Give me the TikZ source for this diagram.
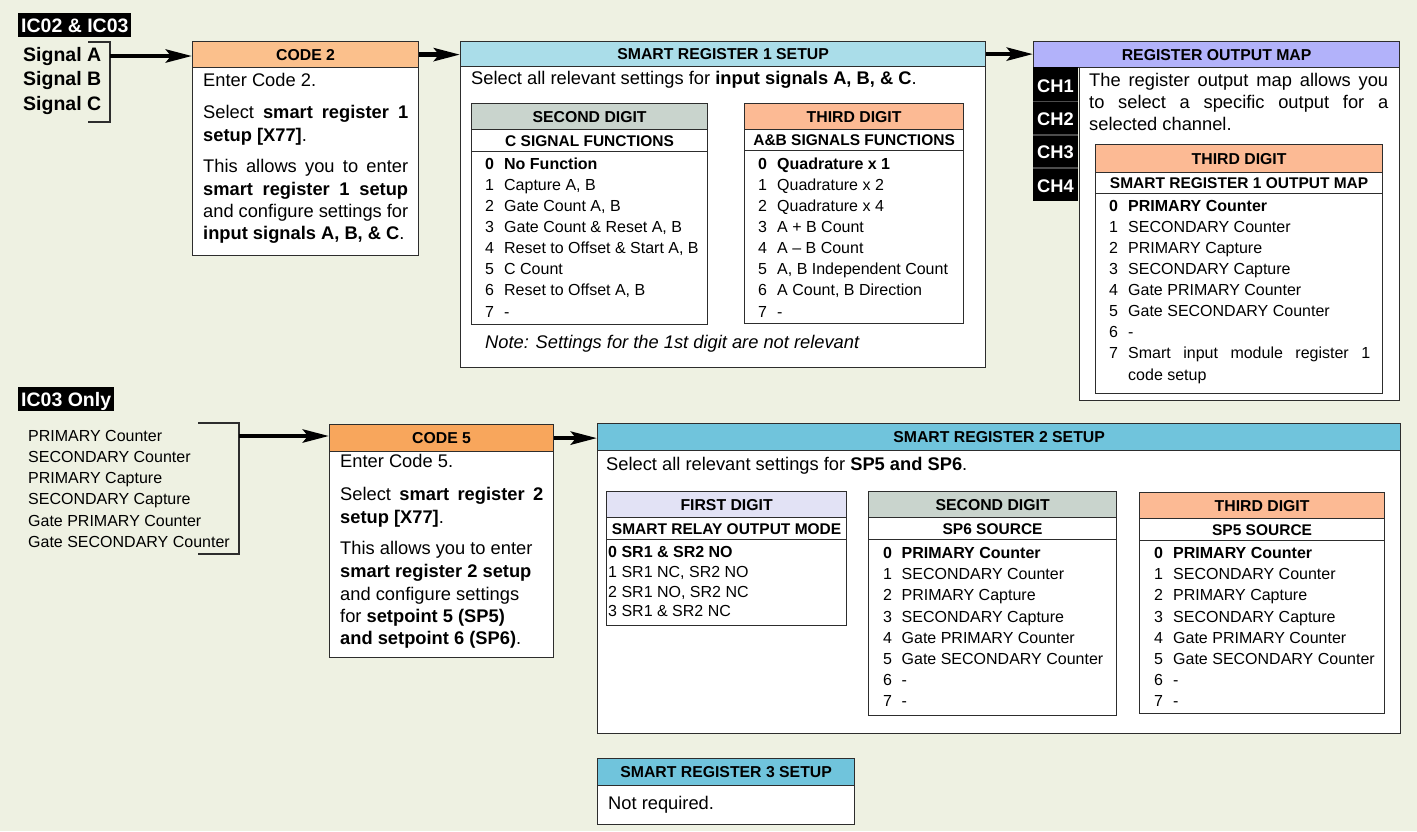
\documentclass[tikz,border=0pt]{standalone}
\usepackage{fontspec}
\setmainfont{Liberation Sans}
\usetikzlibrary{arrows.meta}
\definecolor{bgc}{RGB}{238,241,226}
\definecolor{bd}{RGB}{45,45,45}
\definecolor{c2hc}{RGB}{251,192,140}
\definecolor{c5hc}{RGB}{248,166,92}
\definecolor{sr1hc}{RGB}{170,221,233}
\definecolor{sr2hc}{RGB}{112,196,220}
\definecolor{romhc}{RGB}{178,178,250}
\definecolor{sdhc}{RGB}{201,212,205}
\definecolor{tdhc}{RGB}{252,186,148}
\definecolor{fdhc}{RGB}{226,226,245}
\newcommand\fhdr{\fontsize{15.8}{18}\selectfont\bfseries}
\newcommand\fsub{\fontsize{15.5}{18}\selectfont\bfseries}
\newcommand\fbody{\fontsize{18.3}{22}\selectfont}
\newcommand\flist{\fontsize{16}{19}\selectfont}
\newcommand\fbig{\fontsize{19.5}{22}\selectfont\bfseries}
\newcommand\fch{\fontsize{18.3}{22}\selectfont\bfseries}
\tikzset{
  hdr/.style={draw=bd, line width=1.2pt, inner sep=0pt, anchor=north west, font=\fhdr, text height=11.3pt, text depth=0pt},
  subh/.style={draw=bd, fill=white, line width=1.2pt, inner sep=0pt, anchor=north west, font=\fsub, text height=11.1pt, text depth=0pt},
  bx/.style={draw=bd, fill=white, line width=1.2pt, inner sep=0pt, anchor=north west},
  tl/.style={anchor=base west, inner sep=0pt, font=\fbody},
  li/.style={anchor=base west, inner sep=0pt, font=\flist},
  arr/.style={line width=4.6pt, -{Stealth[length=26pt,width=13pt,inset=5pt]}},
  brk/.style={draw=bd, line width=1.2pt},
  tag/.style={fill=black, text=white, font=\fbig, anchor=north west, inner xsep=3pt, inner ysep=0pt, minimum height=24pt, text height=14pt, text depth=0pt},
  chl/.style={anchor=base, inner sep=0pt, font=\fch, text=white},
  chsep/.style={draw=black!70, line width=1.2pt}
}
\begin{document}
\begin{tikzpicture}[x=1pt,y=-1pt]
\useasboundingbox (0,0) rectangle (1417,831);
\fill[bgc] (0,0) rectangle (1417,831);

% ---------- IC02 & IC03 ----------
\node[tag] (ic02) at (18,13) {IC02 \& IC03};
\node[anchor=base west, inner sep=0pt, font=\fbig] (siga) at (23,61) {Signal A};
\node[anchor=base west, inner sep=0pt, font=\fbig] (sigb) at (23,85.5) {Signal B};
\node[anchor=base west, inner sep=0pt, font=\fbig] (sigc) at (23,110) {Signal C};
\draw[brk] (88,42) -- (110,42) -- (110,122) -- (88,122);
\coordinate (sigout) at (110,56);

% ---------- CODE 2 ----------
\node[bx, minimum width=226pt, minimum height=188pt] (c2b) at (192,67) {};
\node[hdr, fill=c2hc, minimum width=226pt, minimum height=26pt] (c2h) at (192,41) {CODE 2};
\node[tl] (c2l1) at (203,86) {Enter Code 2.};
\node[tl] (c2l2) at (203,118) {\makebox[205pt][s]{Select \textbf{smart register 1}}};
\node[tl] (c2l3) at (203,141) {\textbf{setup [X77]}.};
\node[tl] (c2l4) at (203,172) {\makebox[205pt][s]{This allows you to enter}};
\node[tl] (c2l5) at (203,195) {\makebox[205pt][s]{\textbf{smart register 1 setup}}};
\node[tl] (c2l6) at (203,217) {\makebox[205pt][s]{and configure settings for}};
\node[tl] (c2l7) at (203,239) {\textbf{input signals A, B, \& C}.};

% ---------- SMART REGISTER 1 SETUP ----------
\node[bx, minimum width=525pt, minimum height=301pt] (sr1b) at (460,66) {};
\node[hdr, fill=sr1hc, minimum width=525pt, minimum height=25pt] (sr1h) at (460,41) {SMART REGISTER 1 SETUP};
\node[tl] (sr1t) at (471,84) {Select all relevant settings for \textbf{input signals A, B, \& C}.};
% second digit
\node[bx, minimum width=236pt, minimum height=173pt] (t1b) at (471,151) {};
\node[hdr, fill=sdhc, minimum width=236pt, minimum height=26pt] (t1h) at (471,103) {SECOND DIGIT};
\node[subh, minimum width=236pt, minimum height=22pt] (t1s) at (471,129) {C SIGNAL FUNCTIONS};
\node[li] (t1i0) at (485,169) {\makebox[19pt][l]{\textbf{0}}\textbf{No Function}};
\foreach \t [count=\i] in {{Capture A, B},{Gate Count A, B},{Gate Count \& Reset A, B},{Reset to Offset \& Start A, B},{C Count},{Reset to Offset A, B},{-}}
  {\node[li] (t1i\i) at (485,169+21.15*\i) {\makebox[19pt][l]{\i}\t};}
% third digit
\node[bx, minimum width=219pt, minimum height=173pt] (t2b) at (744,150) {};
\node[hdr, fill=tdhc, minimum width=219pt, minimum height=26pt] (t2h) at (744,103) {THIRD DIGIT};
\node[subh, minimum width=219pt, minimum height=21pt] (t2s) at (744,129) {A\&B SIGNALS FUNCTIONS};
\node[li] (t2i0) at (758,169) {\makebox[19pt][l]{\textbf{0}}\textbf{Quadrature x 1}};
\foreach \t [count=\i] in {{Quadrature x 2},{Quadrature x 4},{A + B Count},{A \textendash{} B Count},{A, B Independent Count},{A Count, B Direction},{-}}
  {\node[li] (t2i\i) at (758,169+21.15*\i) {\makebox[19pt][l]{\i}\t};}
\node[tl, font=\fbody\itshape] (note) at (485,348) {Note: Settings for the 1st digit are not relevant};

% ---------- REGISTER OUTPUT MAP ----------
\node[bx, minimum width=320pt, minimum height=333pt] (romb) at (1079,67) {};
\node[hdr, fill=romhc, minimum width=366pt, minimum height=26pt] (romh) at (1033,41) {REGISTER OUTPUT MAP};
\node[fill=black, anchor=north west, inner sep=0pt, minimum width=45pt, minimum height=134pt] (chcol) at (1033,67) {};
\draw[chsep] (1033,101.7) -- (1078,101.7);
\draw[chsep] (1033,135) -- (1078,135);
\draw[chsep] (1033,168) -- (1078,168);
\node[chl] (ch1) at (1055.5,92.5) {CH1};
\node[chl] (ch2) at (1055.5,125.5) {CH2};
\node[chl] (ch3) at (1055.5,158.5) {CH3};
\node[chl] (ch4) at (1055.5,192.5) {CH4};
\node[tl] (roml1) at (1089,86) {\makebox[299pt][s]{The register output map allows you}};
\node[tl] (roml2) at (1089,108.3) {\makebox[299pt][s]{to select a specific output for a}};
\node[tl] (roml3) at (1089,130.6) {selected channel.};
\node[bx, minimum width=287pt, minimum height=200pt] (t3b) at (1095,193) {};
\node[hdr, fill=tdhc, minimum width=287pt, minimum height=28pt] (t3h) at (1095,144) {THIRD DIGIT};
\node[subh, minimum width=287pt, minimum height=21pt] (t3s) at (1095,172) {SMART REGISTER 1 OUTPUT MAP};
\node[li] (t3i0) at (1109,211) {\makebox[19pt][l]{\textbf{0}}\textbf{PRIMARY Counter}};
\foreach \t [count=\i] in {SECONDARY Counter,PRIMARY Capture,SECONDARY Capture,Gate PRIMARY Counter,Gate SECONDARY Counter,-}
  {\node[li] (t3i\i) at (1109,211+21.1*\i) {\makebox[19pt][l]{\i}\t};}
\node[li] (t3i7) at (1109,358.7) {\makebox[19pt][l]{7}\makebox[242pt][s]{Smart input module register 1}};
\node[li] (t3i7b) at (1128,380) {code setup};

% ---------- IC03 Only ----------
\node[tag] (ic03) at (18,387) {IC03 Only};
\foreach \t [count=\i from 0] in {PRIMARY Counter,SECONDARY Counter,PRIMARY Capture,SECONDARY Capture,Gate PRIMARY Counter,Gate SECONDARY Counter}
  {\node[li] (src\i) at (28,441+21.3*\i) {\t};}
\draw[brk] (198,423) -- (239,423) -- (239,554) -- (198,554);
\coordinate (srcout) at (239,436);

% ---------- CODE 5 ----------
\node[bx, minimum width=224pt, minimum height=206pt] (c5b) at (329,451) {};
\node[hdr, fill=c5hc, minimum width=224pt, minimum height=27pt] (c5h) at (329,424) {CODE 5};
\node[tl] (c5l1) at (340,467) {Enter Code 5.};
\node[tl] (c5l2) at (340,500) {\makebox[203pt][s]{Select \textbf{smart register 2}}};
\node[tl] (c5l3) at (340,523) {\textbf{setup [X77]}.};
\node[tl] (c5l4) at (340,554) {This allows you to enter};
\node[tl] (c5l5) at (340,577) {\textbf{smart register 2 setup}};
\node[tl] (c5l6) at (340,600) {and configure settings};
\node[tl] (c5l7) at (340,622) {for \textbf{setpoint 5 (SP5)}};
\node[tl] (c5l8) at (340,644) {\textbf{and setpoint 6 (SP6)}.};

% ---------- SMART REGISTER 2 SETUP ----------
\node[bx, minimum width=803pt, minimum height=283pt] (sr2b) at (597,450) {};
\node[hdr, fill=sr2hc, minimum width=803pt, minimum height=27pt] (sr2h) at (597,423) {SMART REGISTER 2 SETUP};
\node[tl] (sr2t) at (606,470) {Select all relevant settings for \textbf{SP5 and SP6}.};
% first digit
\node[bx, minimum width=240pt, minimum height=86pt] (t4b) at (606,539) {};
\node[hdr, fill=fdhc, minimum width=240pt, minimum height=26pt] (t4h) at (606,491) {FIRST DIGIT};
\node[subh, minimum width=240pt, minimum height=22pt] (t4s) at (606,517) {SMART RELAY OUTPUT MODE};
\node[li] (t4i0) at (608,557.5) {\textbf{0 SR1 \& SR2 NO}};
\node[li] (t4i1) at (608,577.3) {1 SR1 NC, SR2 NO};
\node[li] (t4i2) at (608,597.1) {2 SR1 NO, SR2 NC};
\node[li] (t4i3) at (608,616.9) {3 SR1 \& SR2 NC};
% second digit
\node[bx, minimum width=248pt, minimum height=176pt] (t5b) at (868,539) {};
\node[hdr, fill=sdhc, minimum width=248pt, minimum height=26pt] (t5h) at (868,491) {SECOND DIGIT};
\node[subh, minimum width=248pt, minimum height=22pt] (t5s) at (868,517) {SP6 SOURCE};
\node[li] (t5i0) at (883,558.5) {\makebox[18.5pt][l]{\textbf{0}}\textbf{PRIMARY Counter}};
\foreach \t [count=\i] in {SECONDARY Counter,PRIMARY Capture,SECONDARY Capture,Gate PRIMARY Counter,Gate SECONDARY Counter,-,-}
  {\node[li] (t5i\i) at (883,558.5+21.2*\i) {\makebox[18.5pt][l]{\i}\t};}
% third digit
\node[bx, minimum width=245pt, minimum height=173pt] (t6b) at (1139,540) {};
\node[hdr, fill=tdhc, minimum width=245pt, minimum height=26pt] (t6h) at (1139,492) {THIRD DIGIT};
\node[subh, minimum width=245pt, minimum height=22pt] (t6s) at (1139,518) {SP5 SOURCE};
\node[li] (t6i0) at (1154,558.5) {\makebox[19pt][l]{\textbf{0}}\textbf{PRIMARY Counter}};
\foreach \t [count=\i] in {SECONDARY Counter,PRIMARY Capture,SECONDARY Capture,Gate PRIMARY Counter,Gate SECONDARY Counter,-,-}
  {\node[li] (t6i\i) at (1154,558.5+21.2*\i) {\makebox[19pt][l]{\i}\t};}

% ---------- SMART REGISTER 3 SETUP ----------
\node[bx, minimum width=257pt, minimum height=39pt] (sr3b) at (597,785) {};
\node[hdr, fill=sr2hc, minimum width=257pt, minimum height=27pt] (sr3h) at (597,758) {SMART REGISTER 3 SETUP};
\node[tl] (sr3t) at (608,809.5) {Not required.};

% ---------- arrows ----------
\draw[arr] (sigout) -- (sigout -| c2h.west);
\draw[arr] (c2h.east) -- (c2h.east -| sr1h.west);
\draw[arr] (sr1h.east) -- (sr1h.east -| romh.west);
\draw[arr] (srcout) -- (srcout -| c5h.west);
\draw[arr] (c5h.east) -- (c5h.east -| sr2h.west);
\end{tikzpicture}
\end{document}
